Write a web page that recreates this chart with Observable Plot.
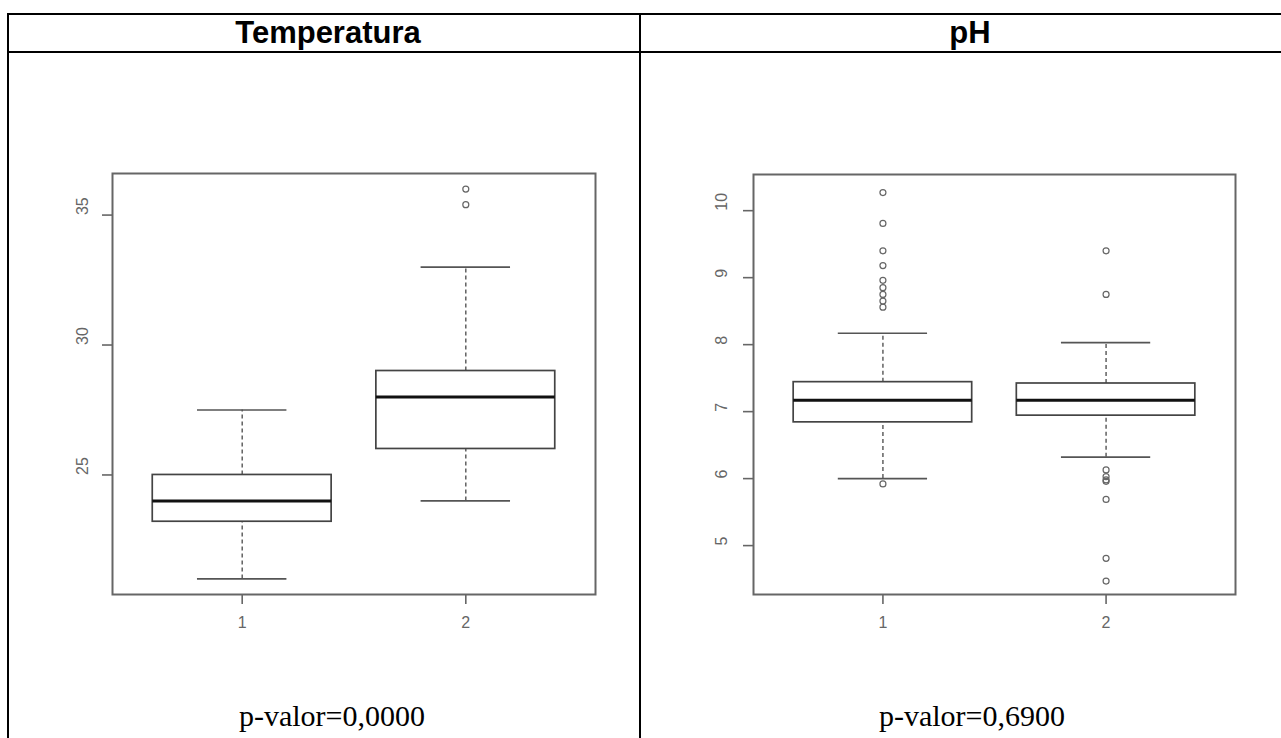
<!DOCTYPE html>
<html><head><meta charset="utf-8">
<script src="https://cdn.jsdelivr.net/npm/d3@7"></script>
<script src="https://cdn.jsdelivr.net/npm/@observablehq/plot@0.6"></script>
<style>
html,body{margin:0;padding:0;background:#fff;width:1281px;height:738px;overflow:hidden;position:relative;}
.line{position:absolute;background:#000;}
.hdr{position:absolute;font-family:"Liberation Sans",Arial,sans-serif;font-weight:bold;font-size:31px;line-height:31px;transform:translateX(-50%);white-space:nowrap;color:#000;}
.pv{position:absolute;font-family:"Liberation Serif","Times New Roman",serif;font-size:30px;line-height:30px;transform:translateX(-50%);white-space:nowrap;color:#000;}
.plot{position:absolute;}
</style></head><body>
<div class="line" style="left:7px;top:13px;width:1290px;height:2px"></div>
<div class="line" style="left:7px;top:51px;width:1290px;height:2px"></div>
<div class="line" style="left:7px;top:13px;width:2px;height:730px"></div>
<div class="line" style="left:639px;top:13px;width:2px;height:730px"></div>
<div class="hdr" style="left:328px;top:17px">Temperatura</div>
<div class="hdr" style="left:970px;top:17px">pH</div>
<div id="p1" class="plot" style="left:20px;top:150px"></div>
<div id="p2" class="plot" style="left:660px;top:150px"></div>
<div class="pv" style="left:332px;top:701px">p-valor=0,0000</div>
<div class="pv" style="left:972px;top:701px">p-valor=0,6900</div>
<script>
// ---- data ----
const groups = [1, 2];
const xTickLabels = ["1", "2"];

const tempQ1 = [23.2, 26.0];
const tempMedian = [24.0, 28.0];
const tempQ3 = [25.0, 29.0];
const tempWhiskerLow = [21.0, 24.0];
const tempWhiskerHigh = [27.5, 33.0];
const tempOutlierGroup = [2, 2];
const tempOutlierValue = [36.0, 35.4];
const tempTicks = [25, 30, 35];

const phQ1 = [6.84, 6.94];
const phMedian = [7.17, 7.17];
const phQ3 = [7.44, 7.42];
const phWhiskerLow = [6.0, 6.32];
const phWhiskerHigh = [8.17, 8.03];
const phOutlierGroup = [1, 1, 1, 1, 1, 1, 1, 1, 1, 1, 2, 2, 2, 2, 2, 2, 2, 2, 2];
const phOutlierValue = [10.27, 9.81, 9.40, 9.18, 8.96, 8.85, 8.75, 8.65, 8.56, 5.92,
                        9.40, 8.75, 6.13, 6.03, 5.98, 5.96, 5.69, 4.81, 4.47];
const phTicks = [5, 6, 7, 8, 9, 10];

function panel({q1, med, q3, wlo, whi, og, ov, ticks, domain, marginLeft, marginTop, labelDx}) {
  const stats = groups.map((g, i) => ({g, q1: q1[i], med: med[i], q3: q3[i], wlo: wlo[i], whi: whi[i]}));
  const outliers = og.map((g, i) => ({g, v: ov[i]}));
  const grey = "#555";
  const half = 0.4, cap = 0.2;
  return Plot.plot({
    width: 600, height: 500,
    marginLeft, marginRight: 25, marginTop, marginBottom: 56,
    x: {type: "linear", domain: [0.42, 2.58], axis: null},
    y: {type: "linear", domain, axis: null},
    style: {background: "transparent", overflow: "visible", fontFamily: "'Liberation Sans', Arial, sans-serif"},
    marks: [
      Plot.ruleX(stats, {x: "g", y1: "q3", y2: "whi", stroke: grey, strokeWidth: 1.4, strokeDasharray: "4,3"}),
      Plot.ruleX(stats, {x: "g", y1: "wlo", y2: "q1", stroke: grey, strokeWidth: 1.4, strokeDasharray: "4,3"}),
      Plot.ruleY(stats, {y: "whi", x1: d => d.g - cap, x2: d => d.g + cap, stroke: grey, strokeWidth: 1.7}),
      Plot.ruleY(stats, {y: "wlo", x1: d => d.g - cap, x2: d => d.g + cap, stroke: grey, strokeWidth: 1.7}),
      Plot.rect(stats, {x1: d => d.g - half, x2: d => d.g + half, y1: "q1", y2: "q3", fill: "white", stroke: "#444", strokeWidth: 1.7}),
      Plot.ruleY(stats, {y: "med", x1: d => d.g - half, x2: d => d.g + half, stroke: "#111", strokeWidth: 3}),
      Plot.dot(outliers, {x: "g", y: "v", r: 3, stroke: "#666", strokeWidth: 1.2, fill: "none"}),
      Plot.frame({stroke: "#666", strokeWidth: 2}),
      Plot.axisY(ticks, {tickSize: 10, tickFormat: () => "", stroke: "#666", strokeWidth: 1.6, label: null}),
      Plot.text(ticks, {y: d => d, text: d => String(d), frameAnchor: "left", dx: labelDx, rotate: -90, fontSize: 16, fill: "#666"}),
      Plot.axisX(groups, {tickSize: 10, tickFormat: () => "", stroke: "#666", strokeWidth: 1.6, label: null}),
      Plot.text(groups, {x: d => d, text: (d, i) => xTickLabels[i], frameAnchor: "bottom", dy: 33, fontSize: 16, fill: "#666"})
    ]
  });
}

document.getElementById("p1").append(panel({
  q1: tempQ1, med: tempMedian, q3: tempQ3, wlo: tempWhiskerLow, whi: tempWhiskerHigh,
  og: tempOutlierGroup, ov: tempOutlierValue, ticks: tempTicks,
  domain: [20.4, 36.6], marginLeft: 92, marginTop: 23, labelDx: -30
}));
document.getElementById("p2").append(panel({
  q1: phQ1, med: phMedian, q3: phQ3, wlo: phWhiskerLow, whi: phWhiskerHigh,
  og: phOutlierGroup, ov: phOutlierValue, ticks: phTicks,
  domain: [4.27, 10.54], marginLeft: 93, marginTop: 24, labelDx: -32
}));
</script>
</body></html>
